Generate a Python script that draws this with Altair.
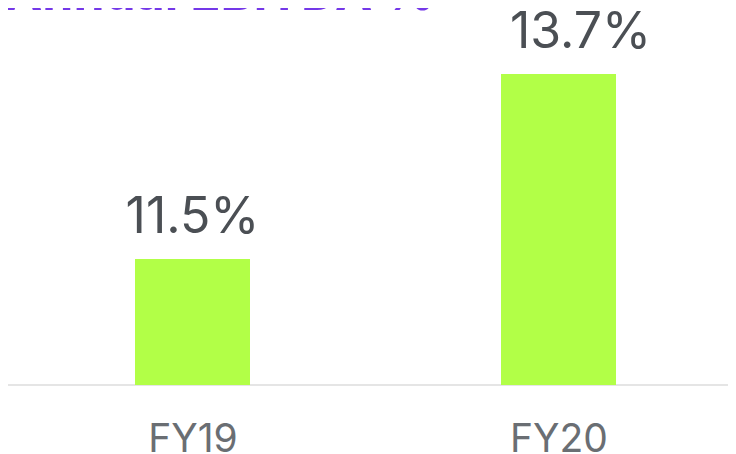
import altair as alt
import pandas as pd

years = ["FY19", "FY20"]
ebitda = [11.5, 13.7]
labels = ["11.5%", "13.7%"]
title_text = "Annual EBITDA %"

df = pd.DataFrame({"year": years, "value": ebitda, "label": labels})

FONT = "Inter"
BAR = "#b2ff47"
W, H = 720, 377

label_expr = "[" + ",".join("'" + y + "'" for y in years) + "][datum.value]"

x = alt.X(
    "idx:Q",
    scale=alt.Scale(domain=[-0.5041, 1.4631], nice=False, zero=False, padding=0),
    axis=alt.Axis(
        title=None,
        values=list(range(len(years))),
        labelExpr=label_expr,
        labelAngle=0,
        labelFont=FONT,
        labelFontSize=39,
        labelColor="#6a6e73",
        labelPadding=35,
        ticks=False,
        tickSize=0,
        domain=False,
        grid=False,
        labelFlush=False,
        labelOverlap=False,
    ),
)
yscale = alt.Scale(domain=[10, 14.485], zero=False, nice=False)
y = alt.Y("value:Q", scale=yscale, axis=None)

base = (
    alt.Chart(df)
    .transform_window(rn="row_number()")
    .transform_calculate(idx="datum.rn - 1")
)

baseline = alt.Chart(pd.DataFrame({"b": [10]})).mark_rule(
    color="#dddddd", strokeWidth=1.5
).encode(x=alt.value(0), x2=alt.value(W + 8), y=alt.Y("b:Q", scale=yscale, axis=None))

bars = base.mark_bar(size=115, color=BAR).encode(x=x, y=y, y2=alt.datum(10))

lab1 = base.transform_filter(alt.datum.year == "FY19").mark_text(
    baseline="alphabetic", dy=-26, dx=0, fontSize=50, font=FONT, color="#4b4f54"
).encode(x=x, y=y, text="label:N")
lab2 = base.transform_filter(alt.datum.year == "FY20").mark_text(
    baseline="alphabetic", dy=-26, dx=22, fontSize=50, font=FONT, color="#4b4f54"
).encode(x=x, y=y, text="label:N")

title = alt.Chart(pd.DataFrame({"t": [title_text]})).mark_text(
    align="left", baseline="alphabetic", fontSize=50, fontWeight="bold", font=FONT, color="#7438e8"
).encode(x=alt.value(-3), y=alt.value(2), text="t:N")

chart = (
    alt.layer(baseline, bars, lab1, lab2, title)
    .properties(
        width=W,
        height=H,
        autosize=alt.AutoSizeParams(type="none"),
        padding={"left": 0, "top": 0, "right": 0, "bottom": 69},
    )
    .configure_view(stroke=None)
)

chart.save("out.html", embed_options={"renderer": "svg", "actions": False})
